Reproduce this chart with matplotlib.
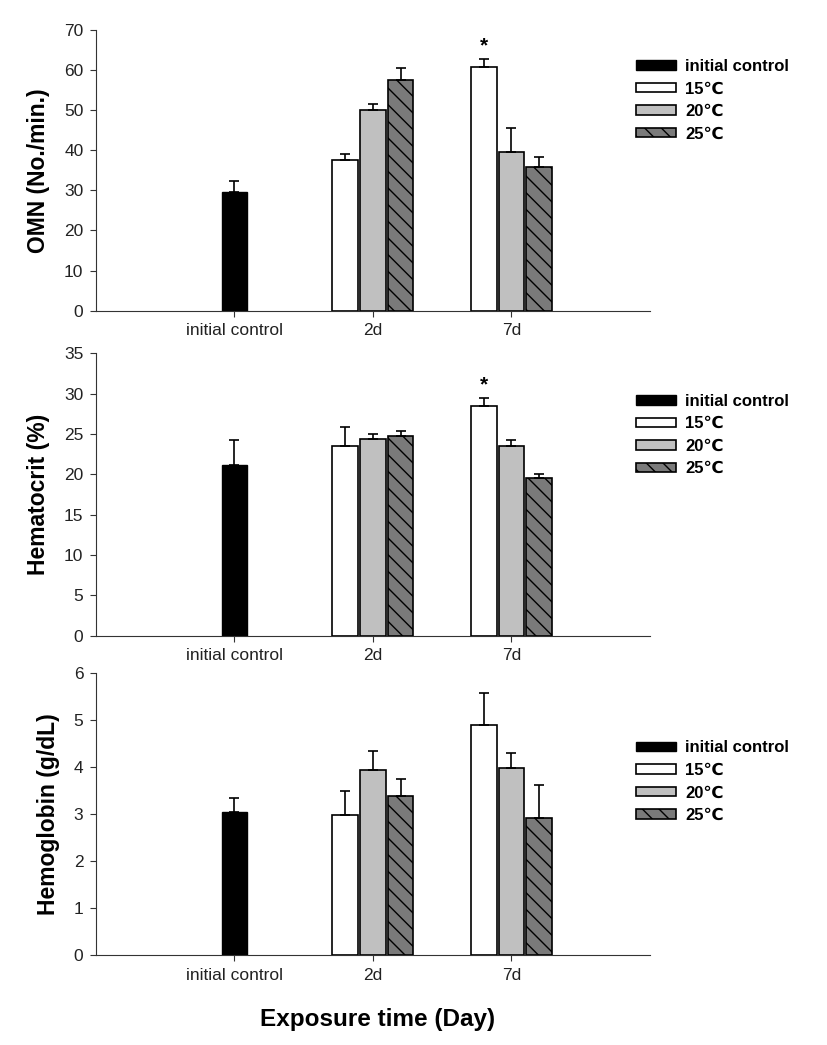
import numpy as np
import matplotlib
matplotlib.use("Agg")
import matplotlib.pyplot as plt

plt.rcParams['font.family'] = ['Liberation Sans', 'DejaVu Sans']
plt.rcParams['hatch.linewidth'] = 1.0

# data
days = ["initial control", "2d", "7d"]
temps = ["15\u2103", "20\u2103", "25\u2103"]

omn_ctrl = 29.7
omn_ctrl_err = 2.6
omn_mean = [[37.6, 60.8], [50.0, 39.5], [57.5, 35.8]]
omn_err = [[1.5, 2.0], [1.5, 6.0], [2.9, 2.5]]

hct_ctrl = 21.1
hct_ctrl_err = 3.1
hct_mean = [[23.5, 28.5], [24.4, 23.5], [24.7, 19.6]]
hct_err = [[2.4, 1.0], [0.6, 0.8], [0.7, 0.4]]

hb_ctrl = 3.05
hb_ctrl_err = 0.28
hb_mean = [[2.97, 4.89], [3.94, 3.97], [3.39, 2.92]]
hb_err = [[0.51, 0.67], [0.39, 0.32], [0.36, 0.69]]

ylabels = ["OMN (No./min.)", "Hematocrit (%)", "Hemoglobin (g/dL)"]
ymax = [70, 35, 6]
ystep = [10, 5, 1]
stars = [True, True, False]

fills = ["white", "#c0c0c0", "#7a7a7a"]
hatches = [None, None, "\\\\"]

fig = plt.figure(figsize=(8.27, 10.45), dpi=100)
# axes rects in figure fraction
rects = [[0.116, 0.7027, 0.67, 0.2686],
         [0.116, 0.3917, 0.67, 0.2702],
         [0.116, 0.0861, 0.67, 0.2701]]
leg_top = [0.9436, 0.6232, 0.2915]

panels = [(omn_ctrl, omn_ctrl_err, omn_mean, omn_err),
          (hct_ctrl, hct_ctrl_err, hct_mean, hct_err),
          (hb_ctrl, hb_ctrl_err, hb_mean, hb_err)]

w = 0.185
off = [-0.2, 0.0, 0.2]
for k in range(3):
    ctrl, ctrl_err, mean, err = panels[k]
    ax = fig.add_axes(rects[k])
    ax.bar(0, ctrl, w, color="black", edgecolor="black", lw=1,
           label="initial control", zorder=2)
    ax.errorbar(0, ctrl, yerr=[[0], [ctrl_err]], fmt="none", ecolor="black",
                elinewidth=1.2, capsize=3.5, capthick=1.2, zorder=3)
    for i in range(3):
        xs = np.array([1, 2]) + off[i]
        ax.bar(xs, mean[i], w, color=fills[i], edgecolor="black", lw=1.2,
               hatch=hatches[i], label=temps[i], zorder=2)
        ax.errorbar(xs, mean[i], yerr=[np.zeros(2), err[i]], fmt="none",
                    ecolor="black", elinewidth=1.2, capsize=3.5, capthick=1.2,
                    zorder=3)
    if stars[k]:
        top = mean[0][1] + err[0][1]
        ax.text(2 + off[0], top + ymax[k] * 0.012, "*", ha="center", va="bottom",
                fontsize=15, fontweight="bold")
    ax.set_xlim(-1, 3)
    ax.set_ylim(0, ymax[k])
    ax.set_yticks(np.arange(0, ymax[k] + ystep[k] / 2, ystep[k]))
    ax.set_xticks([0, 1, 2])
    ax.set_xticklabels(days)
    ax.spines["top"].set_visible(False)
    ax.spines["right"].set_visible(False)
    ax.spines["left"].set_color("#333333")
    ax.spines["bottom"].set_color("#333333")
    ax.tick_params(direction="out", length=4, labelsize=12.5, colors="#333333",
                   labelcolor="#222222", pad=5)
    ax.set_ylabel(ylabels[k], fontsize=16.5, fontweight="bold", labelpad=10)
    ax.legend(loc="upper left", bbox_to_anchor=(0.769, leg_top[k]),
              bbox_transform=fig.transFigure, frameon=False,
              prop={"weight": "bold", "size": 12},
              handlelength=2.4, handleheight=0.5, labelspacing=0.45,
              handletextpad=0.55, borderpad=0, borderaxespad=0)

fig.text(0.457, 0.024, "Exposure time (Day)", ha="center", va="center",
         fontsize=17.5, fontweight="bold")

fig.savefig("out.png", dpi=100)
